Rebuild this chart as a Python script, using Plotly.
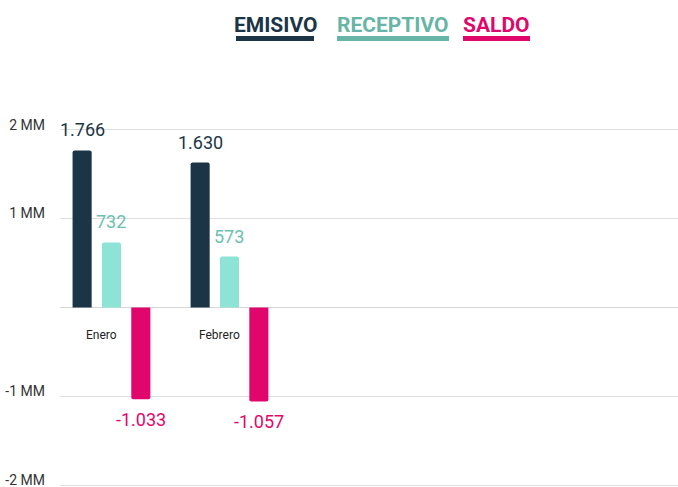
import plotly.graph_objects as go

categories = ["Enero", "Febrero"]
emisivo = [1766, 1630]
receptivo = [732, 573]
saldo = [-1033, -1057]
series_names = ["EMISIVO", "RECEPTIVO", "SALDO"]
tick_vals = [-2000, -1000, 0, 1000, 2000]
tick_text = ["-2 MM", "-1 MM", "", "1 MM", "2 MM"]

bar_colors = ["#1b3547", "#8de3d6", "#e0066b"]
text_colors = ["#1b3547", "#6cc0b0", "#e0066b"]
legend_colors = ["#1b3547", "#66b5a6", "#e0066b"]

def fmt(v):
    s = f"{abs(v):,}".replace(",", ".")
    return ("-" if v < 0 else "") + s

W, H = 678, 487
ML, MT, MB = 60, 127, 0
plot_w = W - ML
plot_h = H - MT - MB

def px_x(px):
    return (px - ML) / plot_w

def px_y(py):
    return (H - MB - py) / plot_h

bargap = 0.254
xs = list(range(len(categories)))
fig = go.Figure()
all_series = [emisivo, receptivo, saldo]
for name, vals, col in zip(series_names, all_series, bar_colors):
    fig.add_trace(go.Bar(x=xs, y=vals, name=name, marker_color=col,
                         marker_line_width=0, showlegend=False, hoverinfo="skip"))

slot = (1 - bargap) / 3
annotations = []
for i, (vals, tc) in enumerate(zip(all_series, text_colors)):
    for x, v in zip(xs, vals):
        annotations.append(dict(
            x=x + (i - 1) * slot, y=v, xref="x", yref="y", text=fmt(v),
            showarrow=False, font=dict(family="Roboto", size=18, color=tc),
            yanchor="bottom" if v >= 0 else "top", yshift=8 if v >= 0 else -8))

for x, c in zip(xs, categories):
    annotations.append(dict(x=x, y=0, xref="x", yref="y", text=c, showarrow=False,
                            font=dict(family="Roboto", size=12, color="#222"),
                            yanchor="middle", yshift=-28, xshift=-10))

# custom legend
legend_x = [236, 337, 463]
legend_w = [78, 112, 67]
for name, lx, lw, lc in zip(series_names, legend_x, legend_w, legend_colors):
    annotations.append(dict(x=px_x(lx + lw / 2), y=px_y(25), xref="paper", yref="paper",
                            text=f"<b>{name}</b>", showarrow=False, xanchor="center",
                            yanchor="middle",
                            font=dict(family="Roboto", size=21, color=lc)))

fig.update_layout(
    width=W, height=H,
    margin=dict(l=ML, r=0, t=MT, b=MB),
    paper_bgcolor="white", plot_bgcolor="white",
    barmode="group", bargap=bargap, bargroupgap=0.35, barcornerradius=2,
    xaxis=dict(range=[-0.436, 4.8], showticklabels=False, showgrid=False,
               zeroline=False, showline=False),
    yaxis=dict(range=[-2020, 2030], tickvals=tick_vals, ticktext=tick_text,
               showgrid=True, gridcolor="#dedede", gridwidth=1,
               zeroline=True, zerolinecolor="#d6d6d6", zerolinewidth=1,
               tickfont=dict(family="Roboto", size=14, color="#333"),
               ticklabelstandoff=14, ticklabelshift=-5, ticklabeloverflow="allow"),
    annotations=annotations,
)

for name, lx, lw, lc in zip(series_names, legend_x, legend_w, legend_colors):
    fig.add_shape(type="rect", xref="paper", yref="paper",
                  x0=px_x(lx), x1=px_x(lx + lw),
                  y0=px_y(41), y1=px_y(36),
                  fillcolor=lc, line_width=0, layer="above")

fig.write_html("out.html", config={"displayModeBar": False},
               post_script="document.body.style.margin='0';document.body.style.overflow='hidden';")
